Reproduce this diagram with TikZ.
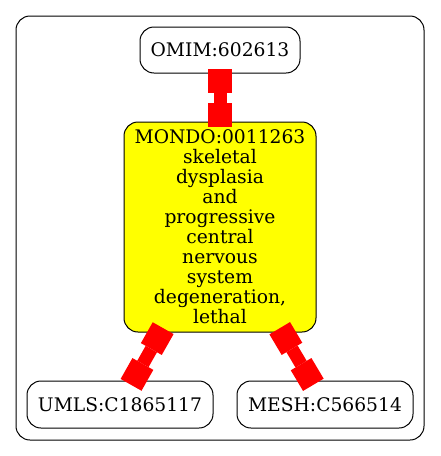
\documentclass[tikz,border=0pt]{standalone}
\usepackage{fontspec}
\setmainfont{DejaVu Serif}
\usetikzlibrary{arrows.meta}
\definecolor{gvyellow}{RGB}{255,255,0}
\definecolor{gvred}{RGB}{255,0,0}
\begin{document}
\begin{tikzpicture}[x=1pt,y=-1pt,
  gnode/.style={draw=black, line width=1pt, rounded corners=14pt, inner sep=0pt,
    font=\fontsize{18.7}{20}\selectfont, align=center},
  frame/.style={draw=black, line width=1pt, rounded corners=14pt, inner sep=0pt},
  link/.style={draw=gvred, line width=13pt, {Square[length=24pt,width=24pt,line width=0pt]}-{Square[length=24pt,width=24pt,line width=0pt]},
    shorten <=-5pt, shorten >=-5pt}
]
\fill[white] (0,0) rectangle (440,456);
\useasboundingbox (0,0) rectangle (440,456);
\node[frame, minimum width=408pt, minimum height=424pt] (cluster) at (220,228) {};
\node[gnode, minimum width=160pt, minimum height=46pt] (omim) at (220,50) {OMIM:602613};
\node[gnode, fill=gvyellow, minimum width=192pt, minimum height=210pt] (mondo) at (220,227)
  {MONDO:0011263\\skeletal\\dysplasia\\and\\progressive\\central\\nervous\\system\\degeneration,\\lethal};
\node[gnode, minimum width=186pt, minimum height=47pt] (umls) at (120,404.5) {UMLS:C1865117};
\node[gnode, minimum width=176pt, minimum height=47pt] (mesh) at (325,404.5) {MESH:C566514};
\draw[link] (omim) -- (mondo);
\draw[link] (mondo) -- (umls);
\draw[link] (mondo) -- (mesh);
\end{tikzpicture}
\end{document}
